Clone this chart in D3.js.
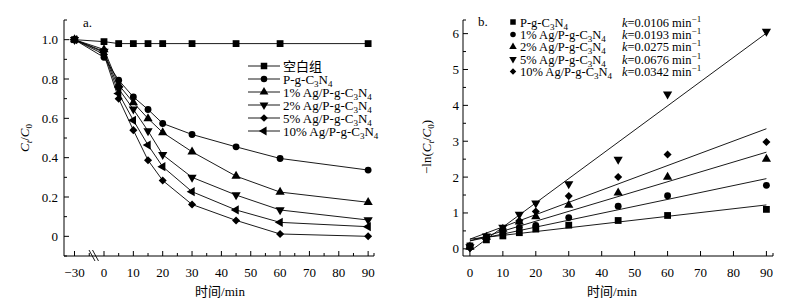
<!DOCTYPE html>
<html>
<head>
<meta charset="utf-8">
<script src="https://cdn.jsdelivr.net/npm/d3@7"></script>
<style>
  body { margin: 0; background: #fff; }
  svg text { font-family: "Liberation Serif", "Times New Roman", "Noto Sans CJK SC", serif; fill: #000; }
</style>
</head>
<body>
<div id="chart"></div>
<script>
// ---- data, chart a (C/C0 vs time) ----
const timesA = [-30, 0, 5, 10, 15, 20, 30, 45, 60, 90];
const seriesPrefixA = ["空白组", "", "1% Ag/", "2% Ag/", "5% Ag/", "10% Ag/"];
const blankA = [1.0, 0.99, 0.98, 0.98, 0.98, 0.98, 0.98, 0.98, 0.98, 0.98];
const pgcnA  = [1.0, 0.91, 0.794, 0.709, 0.645, 0.574, 0.518, 0.455, 0.396, 0.337];
const ag1A   = [1.0, 0.95, 0.77, 0.68, 0.599, 0.528, 0.43, 0.306, 0.225, 0.173];
const ag2A   = [1.0, 0.94, 0.75, 0.646, 0.536, 0.415, 0.30, 0.21, 0.134, 0.083];
const ag5A   = [1.0, 0.925, 0.70, 0.54, 0.387, 0.284, 0.162, 0.081, 0.012, 0.0];
const ag10A  = [1.0, 0.935, 0.726, 0.59, 0.464, 0.354, 0.227, 0.134, 0.071, 0.049];
const xTicksA = [-30, 0, 10, 20, 30, 40, 50, 60, 70, 80, 90];
const yTicksA = [0, 0.2, 0.4, 0.6, 0.8, 1.0];

// ---- data, chart b (-ln(C/C0) vs time) ----
const timesB = [0, 5, 10, 15, 20, 30, 45, 60, 90];
const seriesPrefixB = ["", "1% Ag/", "2% Ag/", "5% Ag/", "10% Ag/"];
const lnPg  = [0.08, 0.25, 0.36, 0.45, 0.55, 0.66, 0.79, 0.93, 1.10];
const ln1   = [0.08, 0.30, 0.45, 0.60, 0.65, 0.87, 1.19, 1.48, 1.77];
const ln2   = [0.05, 0.33, 0.55, 0.75, 0.90, 1.22, 1.56, 2.00, 2.50];
const ln5   = [0.05, 0.35, 0.60, 0.96, 1.27, 1.81, 2.49, 4.31, 6.06];
const ln10  = [0.02, 0.30, 0.55, 0.78, 1.04, 1.47, 2.00, 2.63, 2.98];
const kVals = [0.0106, 0.0193, 0.0275, 0.0676, 0.0342];
const intercepts = [0.27, 0.22, 0.22, -0.07, 0.27];
const xTicksB = [0, 10, 20, 30, 40, 50, 60, 70, 80, 90];
const yTicksB = [0, 1, 2, 3, 4, 5, 6];

const seriesA = [blankA, pgcnA, ag1A, ag2A, ag5A, ag10A];
const seriesB = [lnPg, ln1, ln2, ln5, ln10];

const width = 792, height = 305;
const svg = d3.select("#chart").append("svg")
    .attr("width", width)
    .attr("height", height);

// marker shapes
function marker(g, kind, size) {
    let type = d3.symbolSquare, rot = 0, area = size * size;
    if (kind === "circle") { type = d3.symbolCircle; area = size * size * 0.8; }
    if (kind === "up") { type = d3.symbolTriangle; area = size * size * 0.8; }
    if (kind === "down") { type = d3.symbolTriangle; rot = 180; area = size * size * 0.8; }
    if (kind === "left") { type = d3.symbolTriangle; rot = -90; area = size * size * 0.8; }
    if (kind === "diamond") { type = d3.symbolSquare; rot = 45; area = size * size * 0.7; }
    g.append("path")
        .attr("d", d3.symbol().type(type).size(area)())
        .attr("transform", `rotate(${rot})`)
        .attr("fill", "#000");
}

// "P-g-C3N4" with subscripts
function c3n4(text, prefix) {
    text.append("tspan").text(prefix + "P-g-C");
    text.append("tspan").attr("dy", 3).attr("font-size", 9).text("3");
    text.append("tspan").attr("dy", -3).text("N");
    text.append("tspan").attr("dy", 3).attr("font-size", 9).text("4");
}

function axisTicks(g, scale, majors, minors, orient, len) {
    majors.forEach(v => tick(v, len));
    minors.forEach(v => tick(v, len * 0.6));
    function tick(v, l) {
        if (orient === "left") {
            g.append("line").attr("x1", 0).attr("x2", l).attr("y1", scale(v)).attr("y2", scale(v));
        } else {
            g.append("line").attr("y1", 0).attr("y2", -l).attr("x1", scale(v)).attr("x2", scale(v));
        }
    }
}

// ================= chart a =================
const xA = d3.scaleLinear().domain([-40, -30, 0, 92]).range([64, 74.5, 104, 374]);
const yA = d3.scaleLinear().domain([-0.1, 1.1]).range([256, 20]);
const gA = svg.append("g");

const axA = gA.append("g").attr("stroke", "#000").attr("stroke-width", 1);
axA.append("line").attr("x1", 64).attr("x2", 64).attr("y1", yA(1.1)).attr("y2", yA(-0.1));
axA.append("line").attr("x1", 64).attr("x2", xA(92)).attr("y1", 256).attr("y2", 256);
const yAxA = axA.append("g").attr("transform", "translate(64,0)");
axisTicks(yAxA, yA, yTicksA, [-0.1, 0.1, 0.3, 0.5, 0.7, 0.9, 1.1], "left", 5);
const xAxA = axA.append("g").attr("transform", "translate(0,256)");
axisTicks(xAxA, xA, xTicksA, [-15, 5, 15, 25, 35, 45, 55, 65, 75, 85], "bottom", 5);
xAxA.append("line").attr("x1", xA(92)).attr("x2", xA(92)).attr("y1", 0).attr("y2", -3);
// axis break marks
[0, 3.5].forEach(dx => {
    axA.append("line")
        .attr("x1", 89 + dx).attr("y1", 250)
        .attr("x2", 95 + dx).attr("y2", 261)
        .attr("stroke-width", 0.9);
});

gA.selectAll("text.ylab").data(yTicksA).enter().append("text")
    .attr("class", "ylab")
    .attr("x", 58).attr("y", d => yA(d) + 4.5)
    .attr("text-anchor", "end").attr("font-size", 13)
    .text(d => d === 0 ? "0" : d.toFixed(1));
gA.selectAll("text.xlab").data(xTicksA).enter().append("text")
    .attr("class", "xlab")
    .attr("x", d => xA(d)).attr("y", 277)
    .attr("text-anchor", "middle").attr("font-size", 13)
    .text(d => d < 0 ? "\u2212" + Math.abs(d) : d);
gA.append("text").attr("x", 220).attr("y", 296).attr("text-anchor", "middle")
    .attr("font-size", 13).text("时间/min");
const ytA = gA.append("text").attr("transform", "translate(29,138) rotate(-90)")
    .attr("text-anchor", "middle").attr("font-size", 13);
ytA.append("tspan").attr("font-style", "italic").text("C");
ytA.append("tspan").attr("font-style", "italic").attr("dy", 3).attr("font-size", 9).text("t");
ytA.append("tspan").attr("dy", -3).text("/");
ytA.append("tspan").attr("font-style", "italic").text("C");
ytA.append("tspan").attr("dy", 3).attr("font-size", 9).text("0");
gA.append("text").attr("x", 83).attr("y", 27).attr("font-size", 13).text("a.");

const kindsA = ["square", "circle", "up", "down", "diamond", "left"];
const lineA = d3.line().x((d, i) => xA(timesA[i])).y(d => yA(d));
seriesA.forEach((s, si) => {
    gA.append("path").attr("d", lineA(s))
        .attr("fill", "none").attr("stroke", "#000").attr("stroke-width", 0.9);
});
seriesA.forEach((s, si) => {
    s.forEach((v, i) => {
        const m = gA.append("g").attr("transform", `translate(${xA(timesA[i])},${yA(v)})`);
        marker(m, kindsA[si], 6.8);
    });
});

// legend a
seriesPrefixA.forEach((p, i) => {
    const y = 66 + i * 13;
    gA.append("line").attr("x1", 248).attr("x2", 280).attr("y1", y).attr("y2", y)
        .attr("stroke", "#000").attr("stroke-width", 0.9);
    const m = gA.append("g").attr("transform", `translate(264,${y})`);
    marker(m, kindsA[i], 6.5);
    const t = gA.append("text").attr("x", 283).attr("y", y + 4.5).attr("font-size", 13);
    if (i === 0) t.text(p);
    else c3n4(t, p);
});

// ================= chart b =================
const xB = d3.scaleLinear().domain([-2.1, 92]).range([463, 773]);
const yB = d3.scaleLinear().domain([-0.2, 6.38]).range([256, 20]);
const gB = svg.append("g");

const axB = gB.append("g").attr("stroke", "#000").attr("stroke-width", 1);
axB.append("line").attr("x1", 463).attr("x2", 463).attr("y1", 20).attr("y2", 256);
axB.append("line").attr("x1", 463).attr("x2", 773).attr("y1", 256).attr("y2", 256);
const yAxB = axB.append("g").attr("transform", "translate(463,0)");
axisTicks(yAxB, yB, yTicksB, [0.5, 1.5, 2.5, 3.5, 4.5, 5.5, 6.38], "left", 5);
const xAxB = axB.append("g").attr("transform", "translate(0,256)");
axisTicks(xAxB, xB, xTicksB, [92], "bottom", 5);

gB.selectAll("text.ylab").data(yTicksB).enter().append("text")
    .attr("class", "ylab")
    .attr("x", 459).attr("y", d => yB(d) + 4.5)
    .attr("text-anchor", "end").attr("font-size", 13)
    .text(d => d);
gB.selectAll("text.xlab").data(xTicksB).enter().append("text")
    .attr("class", "xlab")
    .attr("x", d => xB(d)).attr("y", 277)
    .attr("text-anchor", "middle").attr("font-size", 13)
    .text(d => d);
gB.append("text").attr("x", 612).attr("y", 296).attr("text-anchor", "middle")
    .attr("font-size", 13).text("时间/min");
const ytB = gB.append("text").attr("transform", "translate(431,147) rotate(-90)")
    .attr("text-anchor", "middle").attr("font-size", 13);
ytB.append("tspan").text("\u2212ln(");
ytB.append("tspan").attr("font-style", "italic").text("C");
ytB.append("tspan").attr("font-style", "italic").attr("dy", 3).attr("font-size", 9).text("t");
ytB.append("tspan").attr("dy", -3).text("/");
ytB.append("tspan").attr("font-style", "italic").text("C");
ytB.append("tspan").attr("dy", 3).attr("font-size", 9).text("0");
ytB.append("tspan").attr("dy", -3).text(")");
gB.append("text").attr("x", 478).attr("y", 26).attr("font-size", 13).text("b.");

// fitted lines
kVals.forEach((k, i) => {
    gB.append("line")
        .attr("x1", xB(0)).attr("y1", yB(intercepts[i]))
        .attr("x2", xB(90)).attr("y2", yB(intercepts[i] + k * 90))
        .attr("stroke", "#000").attr("stroke-width", 0.9);
});

const kindsB = ["square", "circle", "up", "down", "diamond"];
seriesB.forEach((s, si) => {
    s.forEach((v, i) => {
        const m = gB.append("g").attr("transform", `translate(${xB(timesB[i])},${yB(v)})`);
        marker(m, kindsB[si], 6.8);
    });
});

// legend b
seriesPrefixB.forEach((p, i) => {
    const y = 22 + i * 12.4;
    const m = gB.append("g").attr("transform", `translate(513,${y})`);
    marker(m, kindsB[i], 5.5);
    const t = gB.append("text").attr("x", 520).attr("y", y + 4.5).attr("font-size", 12.5);
    c3n4(t, p);
    const kt = gB.append("text").attr("x", 622).attr("y", y + 4.5).attr("font-size", 12.5);
    kt.append("tspan").attr("font-style", "italic").text("k");
    kt.append("tspan").text("=" + kVals[i].toFixed(4) + " min");
    kt.append("tspan").attr("dy", -5).attr("font-size", 9).text("\u22121");
});
</script>
</body>
</html>
